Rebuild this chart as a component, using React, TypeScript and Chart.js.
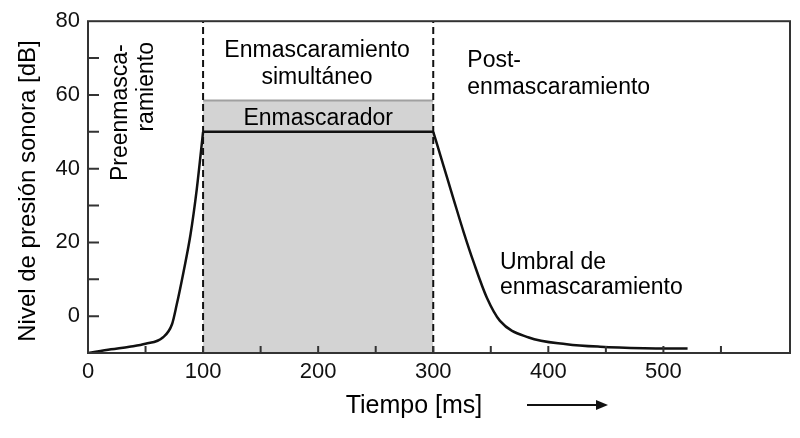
import React, { useEffect, useRef } from 'react';
import { Chart, registerables } from 'chart.js';

Chart.register(...registerables);

// Tiempo [ms] / nivel [dB]
const preX = [0, 20, 36, 50, 65, 73, 77, 83, 89, 94.5, 100];
const preY = [-10, -9, -8.3, -7.5, -5.8, -2.2, 3, 12, 22, 34.4, 50];
const postX = [300, 309, 317.7, 326.4, 335, 346.7, 358, 383, 416, 445, 483, 521];
const postY = [50, 40.7, 31.7, 22.8, 14.7, 4.9, -1.3, -5.8, -7.6, -8.3, -8.7, -8.8];
const maskerStart = 100;
const maskerEnd = 300;
const maskerLevel = 50;
const maskerTop = 58.5;
const xTickLabels = [0, 100, 200, 300, 400, 500];
const yTickLabels = [0, 20, 40, 60, 80];

const FONT = '"Liberation Sans", Arial, sans-serif';

const toPoints = (xs: number[], ys: number[]) => xs.map((x, i) => ({ x, y: ys[i] }));

const decorPlugin = {
  id: 'decor',
  afterDraw(chart: any) {
    const { ctx, chartArea: a, scales } = chart;
    const xs = scales.x;
    const ys = scales.y;
    ctx.save();
    // marco
    ctx.strokeStyle = '#333';
    ctx.lineWidth = 2;
    ctx.strokeRect(a.left, a.top, a.right - a.left, a.bottom - a.top);
    // marcas hacia dentro
    ctx.beginPath();
    for (let v = 50; v < 600; v += 50) {
      const px = xs.getPixelForValue(v);
      ctx.moveTo(px, a.bottom);
      ctx.lineTo(px, a.bottom - 7);
    }
    for (let v = 0; v < 80; v += 10) {
      const py = ys.getPixelForValue(v);
      ctx.moveTo(a.left, py);
      ctx.lineTo(a.left + 11, py);
    }
    ctx.stroke();

    ctx.fillStyle = '#000';
    ctx.font = `23px ${FONT}`;
    const tx = (v: number) => xs.getPixelForValue(v);
    const ty = (v: number) => ys.getPixelForValue(v);

    ctx.textAlign = 'center';
    ctx.textBaseline = 'alphabetic';
    ctx.fillText('Enmascaramiento', tx(199), ty(70.2));
    ctx.fillText('simultáneo', tx(199), ty(63));
    ctx.fillText('Enmascarador', tx(200), ty(51.8));

    ctx.textAlign = 'left';
    ctx.fillText('Post-', tx(329.6), ty(67.6));
    ctx.fillText('enmascaramiento', tx(329.6), ty(60.3));
    ctx.fillText('Umbral de', tx(358), ty(12.9));
    ctx.fillText('enmascaramiento', tx(358), ty(5.9));

    // texto vertical
    ctx.textAlign = 'center';
    ctx.textBaseline = 'middle';
    const vText = (t: string, x: number, y: number) => {
      ctx.save();
      ctx.translate(tx(x), ty(y));
      ctx.rotate(-Math.PI / 2);
      ctx.fillText(t, 0, 0);
      ctx.restore();
    };
    vText('Preenmasca-', 28.7, 55.2);
    vText('ramiento', 51.3, 62.2);

    // títulos de ejes
    ctx.font = `24px ${FONT}`;
    ctx.save();
    ctx.translate(28, 191);
    ctx.rotate(-Math.PI / 2);
    ctx.fillText('Nivel de presión sonora [dB]', 0, 0);
    ctx.restore();

    ctx.font = `25px ${FONT}`;
    ctx.fillText('Tiempo [ms]', 414, 406);

    // flecha
    ctx.strokeStyle = '#111';
    ctx.fillStyle = '#111';
    ctx.lineWidth = 2;
    ctx.beginPath();
    ctx.moveTo(527, 405);
    ctx.lineTo(600, 405);
    ctx.stroke();
    ctx.beginPath();
    ctx.moveTo(608, 405);
    ctx.lineTo(596, 400);
    ctx.lineTo(596, 410);
    ctx.closePath();
    ctx.fill();
    ctx.restore();
  },
};

const MaskingChart: React.FC = () => {
  const chartRef = useRef<HTMLCanvasElement>(null);
  const chartInstance = useRef<Chart | null>(null);

  useEffect(() => {
    if (!chartRef.current) return;
    if (chartInstance.current) chartInstance.current.destroy();

    chartInstance.current = new Chart(chartRef.current, {
      type: 'line',
      data: {
        datasets: [
          {
            label: 'Umbral pre',
            data: toPoints(preX, preY),
            borderColor: '#111',
            borderWidth: 2.5,
            pointRadius: 0,
            cubicInterpolationMode: 'monotone',
            fill: false,
            order: 1,
          },
          {
            label: 'Umbral post',
            data: toPoints(postX, postY),
            borderColor: '#111',
            borderWidth: 2.5,
            pointRadius: 0,
            cubicInterpolationMode: 'monotone',
            fill: false,
            order: 1,
          },
          {
            label: 'Nivel',
            data: toPoints([maskerStart, maskerEnd], [maskerLevel, maskerLevel]),
            borderColor: '#111',
            borderWidth: 2.5,
            pointRadius: 0,
            fill: false,
            order: 2,
          },
          {
            label: 'Inicio',
            data: toPoints([maskerStart, maskerStart], [-10, 80]),
            borderColor: '#111',
            borderWidth: 2,
            borderDash: [7, 4],
            pointRadius: 0,
            fill: false,
            order: 3,
          },
          {
            label: 'Fin',
            data: toPoints([maskerEnd, maskerEnd], [-10, 80]),
            borderColor: '#111',
            borderWidth: 2,
            borderDash: [7, 4],
            pointRadius: 0,
            fill: false,
            order: 3,
          },
          {
            label: 'Enmascarador',
            data: toPoints([maskerStart, maskerEnd], [maskerTop, maskerTop]),
            borderColor: '#a0a0a0',
            borderWidth: 2,
            backgroundColor: '#d3d3d3',
            pointRadius: 0,
            fill: 'start',
            order: 4,
          },
        ],
      },
      options: {
        animation: false,
        responsive: true,
        maintainAspectRatio: false,
        layout: { padding: { top: 20, right: 10, left: 0, bottom: 0 } },
        plugins: { legend: { display: false }, tooltip: { enabled: false } },
        scales: {
          x: {
            type: 'linear',
            min: 0,
            max: 610,
            grid: { display: false, drawTicks: false },
            border: { display: false },
            afterFit: (s: any) => { s.height = 85; },
            ticks: {
              stepSize: 50,
              autoSkip: false,
              maxRotation: 0,
              padding: 6,
              color: '#111',
              font: { family: FONT, size: 22 },
              callback: (v: any) => (xTickLabels.includes(Number(v)) ? String(v) : ''),
            },
          },
          y: {
            type: 'linear',
            min: -10,
            max: 80,
            grid: { display: false, drawTicks: false },
            border: { display: false },
            afterFit: (s: any) => { s.width = 88; },
            ticks: {
              stepSize: 10,
              autoSkip: false,
              padding: 8,
              color: '#111',
              font: { family: FONT, size: 22 },
              callback: (v: any) => (yTickLabels.includes(Number(v)) ? String(v) : ''),
            },
          },
        },
      },
      plugins: [decorPlugin],
    });

    return () => {
      if (chartInstance.current) {
        chartInstance.current.destroy();
        chartInstance.current = null;
      }
    };
  }, []);

  return (
    <div style={{ position: 'fixed', left: 0, top: 0, width: 800, height: 438, background: '#fff' }}>
      <canvas ref={chartRef}></canvas>
    </div>
  );
};

export default function App() {
  return <MaskingChart />;
}
